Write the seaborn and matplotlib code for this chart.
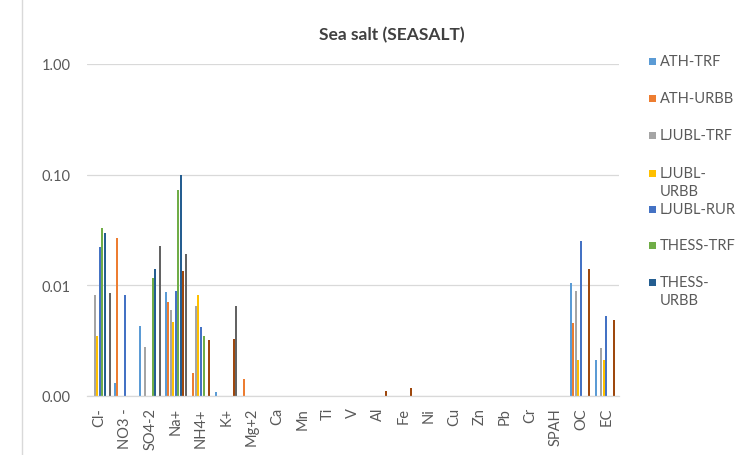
import numpy as np
import pandas as pd
import matplotlib
matplotlib.use("Agg")
import matplotlib.pyplot as plt
from matplotlib.lines import Line2D
from matplotlib.patches import Rectangle
from matplotlib.ticker import FixedLocator, FixedFormatter, NullLocator
import seaborn as sns

nan = np.nan
categories = ["Cl-", "NO3 -", "SO4-2", "Na+", "NH4+", "K+", "Mg+2", "Ca", "Mn", "Ti", "V",
              "Al", "Fe", "Ni", "Cu", "Zn", "Pb", "Cr", "SPAH", "OC", "EC"]
#              Cl-    NO3-    SO4     Na+     NH4+    K+       Mg+2     Ca  Mn  Ti  V   Al       Fe       Ni  Cu  Zn  Pb  Cr  SPAH OC      EC
ath_trf    = [nan,   0.0013, 0.0043, 0.0087, nan,    0.00108, nan,     nan, nan, nan, nan, nan,     nan,     nan, nan, nan, nan, nan, nan, 0.0106, 0.0021]
ath_urbb   = [nan,   0.0267, nan,    0.0070, 0.0016, nan,     0.00143, nan, nan, nan, nan, nan,     nan,     nan, nan, nan, nan, nan, nan, 0.0046, nan]
ljubl_trf  = [0.0081, nan,   0.0028, 0.0060, 0.0065, nan,     nan,     nan, nan, nan, nan, nan,     nan,     nan, nan, nan, nan, nan, nan, 0.0089, 0.0027]
ljubl_urbb = [0.0035, nan,   nan,    0.0047, 0.0082, nan,     nan,     nan, nan, nan, nan, nan,     nan,     nan, nan, nan, nan, nan, nan, 0.0021, 0.0021]
ljubl_rur  = [0.0223, 0.0081, nan,   0.0088, 0.0042, nan,     nan,     nan, nan, nan, nan, nan,     nan,     nan, nan, nan, nan, nan, nan, 0.0250, 0.0053]
thess_trf  = [0.0327, nan,   0.0116, 0.0720, 0.0035, nan,     nan,     nan, nan, nan, nan, nan,     nan,     nan, nan, nan, nan, nan, nan, nan,    nan]
thess_urbb = [0.0300, nan,   0.0140, 0.1000, nan,    nan,     nan,     nan, nan, nan, nan, nan,     nan,     nan, nan, nan, nan, nan, nan, nan,    nan]
series_8   = [nan,   nan,    nan,    0.0135, 0.0032, 0.0033,  nan,     nan, nan, nan, nan, 0.0011,  0.00118, nan, nan, nan, nan, nan, nan, 0.0140, 0.0049]
series_9   = [0.0085, nan,   0.0228, 0.0190, nan,    0.0065,  nan,     nan, nan, nan, nan, nan,     nan,     nan, nan, nan, nan, nan, nan, nan,    nan]

series_names = ["ATH-TRF", "ATH-URBB", "LJUBL-TRF", "LJUBL-URBB", "LJUBL-RUR",
                "THESS-TRF", "THESS-URBB", "Series8", "Series9"]
series_values = [ath_trf, ath_urbb, ljubl_trf, ljubl_urbb, ljubl_rur,
                 thess_trf, thess_urbb, series_8, series_9]
legend_labels = ["ATH-TRF", "ATH-URBB", "LJUBL-TRF", "LJUBL-\nURBB", "LJUBL-RUR",
                 "THESS-TRF", "THESS-\nURBB"]
colors = ["#5B9BD5", "#ED7D31", "#A5A5A5", "#FFC000", "#4472C4",
          "#70AD47", "#255E91", "#9E480E", "#636363"]
y_ticks = [0.001, 0.01, 0.1, 1.0]
y_tick_labels = ["0.00", "0.01", "0.10", "1.00"]

rows = []
for name, vals in zip(series_names, series_values):
    for c, v in zip(categories, vals):
        rows.append({"cat": c, "series": name, "val": v})
df = pd.DataFrame(rows)

sns.set_style("white")
plt.rcParams["font.family"] = ["Lato", "DejaVu Sans"]

fig = plt.figure(figsize=(7.5, 4.56), dpi=100)
ax = fig.add_axes([87/750, 1-397/456, (619-87)/750, (397-65)/456])

sns.barplot(data=df.dropna(), x="cat", y="val", hue="series", order=categories,
            hue_order=series_names, palette=colors, width=0.89, gap=0.2,
            dodge=True, ax=ax, legend=False, errorbar=None, saturation=1,
            linewidth=0, antialiased=False)
ax.set_yscale("log")
ax.set_ylim(0.001, 1.0)
ax.set_xlim(-0.5, len(categories) - 0.5)
ax.yaxis.set_major_locator(FixedLocator(y_ticks))
ax.yaxis.set_major_formatter(FixedFormatter(y_tick_labels))
ax.yaxis.set_minor_locator(NullLocator())
ax.grid(axis="y", color="#D9D9D9", lw=0.9)
ax.set_axisbelow(True)
for s in ["top", "right", "left"]:
    ax.spines[s].set_visible(False)
ax.spines["bottom"].set_color("#D9D9D9")
ax.spines["bottom"].set_linewidth(0.9)
ax.set_xlabel("")
ax.set_ylabel("")
ax.tick_params(axis="both", length=0, colors="#595959", labelsize=10.5)
ax.tick_params(axis="y", pad=12)
ax.tick_params(axis="x", pad=8)
plt.setp(ax.get_xticklabels(), rotation=90, va="top", ha="center")

fig.text(392/750, 1-35/456, "Sea salt (SEASALT)", ha="center", va="center",
         fontsize=12.5, fontweight="bold", color="#404040")

# legend (7 entries, as shown in the reference)
legend_y = [62, 99, 136, 174, 210, 246, 283]
for lab, col, yy in zip(legend_labels, colors, legend_y):
    fig.patches.append(Rectangle((649/750, 1-(yy+3.5)/456), 7/750, 7/456,
                                 transform=fig.transFigure, facecolor=col,
                                 edgecolor="none"))
    fig.text(660/750, 1-(yy-7)/456, lab, ha="left", va="top", fontsize=10.5,
             color="#595959", linespacing=1.35)

fig.add_artist(Line2D([22/750, 22/750], [0, 1], transform=fig.transFigure,
                      color="#D9D9D9", lw=1))

fig.savefig("out.png", dpi=100)
